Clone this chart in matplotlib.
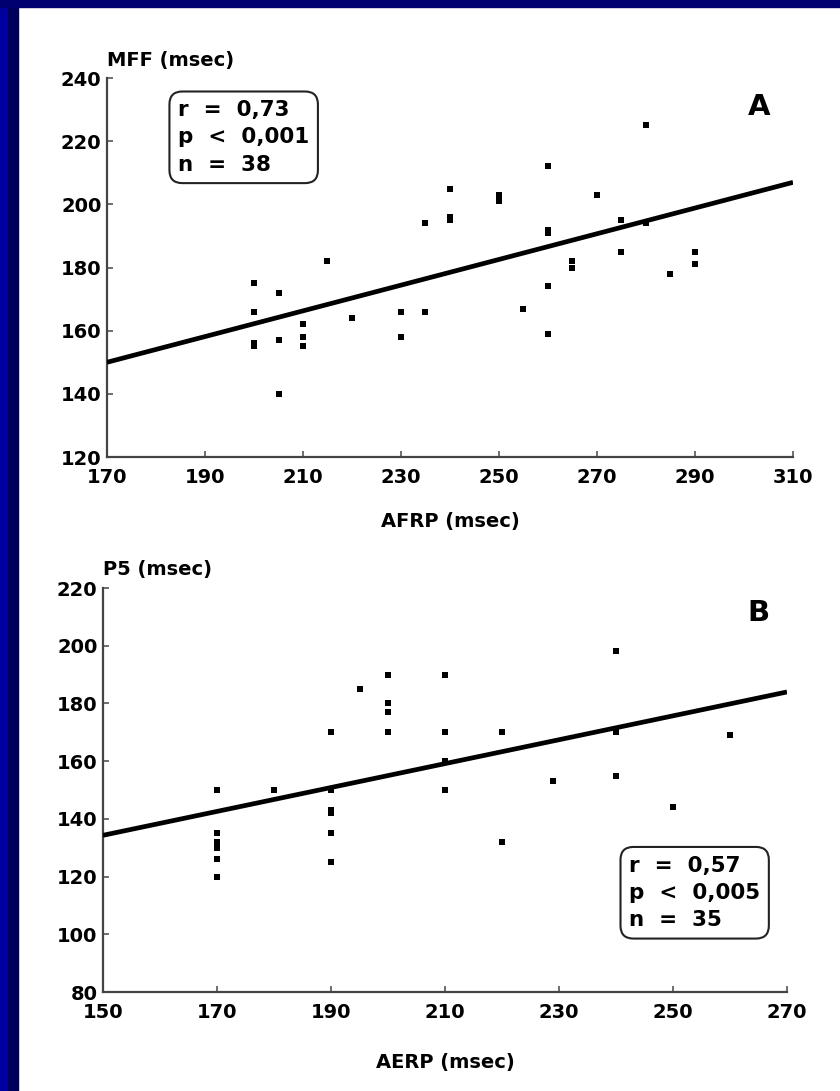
import numpy as np
import matplotlib.pyplot as plt
from matplotlib.patches import Rectangle

plt.rcParams['font.family'] = ['DejaVu Sans']
plt.rcParams['font.weight'] = 'bold'

# Panel A: AFRP vs MFF
afrp = [200, 200, 200, 200, 205, 205, 205, 210, 210, 210, 215, 220,
        230, 230, 235, 235, 240, 240, 240, 250, 250, 255, 260, 260,
        260, 260, 260, 265, 265, 270, 275, 275, 280, 280, 285, 290, 290]
mff = [175, 166, 156, 155, 172, 157, 140, 162, 158, 155, 182, 164,
       166, 158, 166, 194, 205, 196, 195, 203, 201, 167, 212, 192,
       191, 174, 159, 182, 180, 203, 195, 185, 225, 194, 178, 185, 181]
fit_a = (80.8, 0.407)          # intercept, slope
stats_a = "r  =  0,73\np  <  0,001\nn  =  38"

# Panel B: AERP vs P5
aerp = [170, 170, 170, 170, 170, 170, 180, 190, 190, 190, 190, 190,
        190, 195, 200, 200, 200, 200, 210, 210, 210, 210, 220, 220,
        229, 240, 240, 240, 250, 260]
p5 = [150, 135, 132, 130, 126, 120, 150, 170, 150, 143, 142, 135,
      125, 185, 190, 180, 177, 170, 190, 170, 160, 150, 170, 132,
      153, 198, 170, 155, 144, 169]
fit_b = (72.2, 0.414)
stats_b = "r  =  0,57\np  <  0,005\nn  =  35"

W, H = 840, 1091
fig = plt.figure(figsize=(W / 100, H / 100), dpi=100)

# dark blue slide frame
fig.patches.append(Rectangle((0, 0), 8 / W, 1, transform=fig.transFigure,
                             color='#0000a0', zorder=0))
fig.patches.append(Rectangle((8 / W, 0), 10 / W, 1, transform=fig.transFigure,
                             color='#00005c', zorder=0))
fig.patches.append(Rectangle((0, 1 - 7 / H), 1, 7 / H, transform=fig.transFigure,
                             color='#000070', zorder=0))


def panel(rect, x, y, fit, xlim, ylim, xlabel, ylabel, stats, stats_xy, stats_va,
          letter, letter_xy, labelpad):
    ax = fig.add_axes(rect)
    ax.scatter(x, y, marker='s', s=16, color='black', zorder=3, linewidths=0)
    xs = np.array(xlim)
    ax.plot(xs, fit[0] + fit[1] * xs, color='black', lw=3.4, zorder=4,
            solid_capstyle='butt')
    ax.set_xlim(*xlim)
    ax.set_ylim(*ylim)
    ax.set_xticks(np.arange(xlim[0], xlim[1] + 1, 20))
    ax.set_yticks(np.arange(ylim[0], ylim[1] + 1, 20))
    for s in ['top', 'right']:
        ax.spines[s].set_visible(False)
    for s in ['left', 'bottom']:
        ax.spines[s].set_linewidth(1.6)
        ax.spines[s].set_color('#444444')
    ax.tick_params(direction='in', length=4, width=1.2, color='#555555',
                   labelsize=14)
    ax.tick_params(axis='x', pad=8)
    ax.tick_params(axis='y', pad=4)
    for lab in ax.get_xticklabels() + ax.get_yticklabels():
        lab.set_fontweight('bold')
    ax.set_xlabel(xlabel, fontsize=14, fontweight='bold', labelpad=labelpad)
    ax.text(xlim[0], ylim[1] + (ylim[1] - ylim[0]) * 0.047, ylabel,
            fontsize=14, fontweight='bold', ha='left', va='center')
    ax.text(stats_xy[0], stats_xy[1], stats, fontsize=15.5, fontweight='bold',
            ha='left', va=stats_va, linespacing=1.45, zorder=5,
            bbox=dict(boxstyle='round,pad=0.4,rounding_size=0.6',
                      facecolor='white', edgecolor='#222222', linewidth=1.5))
    ax.text(letter_xy[0], letter_xy[1], letter, fontsize=21, fontweight='bold',
            ha='center', va='center')
    return ax


panel([107 / W, 1 - 457 / H, 686 / W, 379 / H], afrp, mff, fit_a,
      (170, 310), (120, 240), 'AFRP (msec)', 'MFF (msec)',
      stats_a, (184.5, 233), 'top', 'A', (303, 230.8), 18)

panel([103 / W, 1 - 992 / H, 684 / W, 404 / H], aerp, p5, fit_b,
      (150, 270), (80, 220), 'AERP (msec)', 'P5 (msec)',
      stats_b, (242.3, 101.5), 'bottom', 'B', (265, 211.5), 22)

fig.savefig('out.png', dpi=100, facecolor='white')
